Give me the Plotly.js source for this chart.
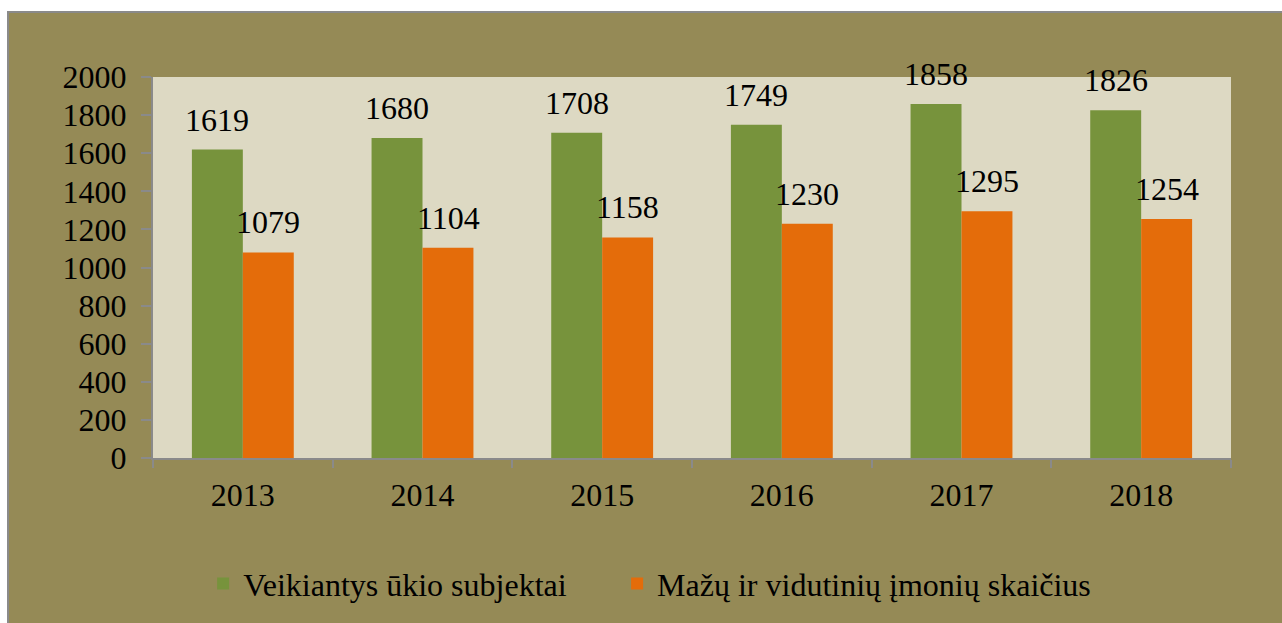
<!DOCTYPE html>
<html>
<head>
<meta charset="utf-8">
<script src="https://cdn.plot.ly/plotly-3.0.1.min.js"></script>
<style>
  html, body { margin: 0; padding: 0; background: #ffffff; width: 1282px; height: 623px; overflow: hidden; }
  #chart { position: absolute; left: 7px; top: 11px; width: 1275px; height: 612px;
           border-left: 2px solid #8a8a8a; border-top: 2px solid #8a8a8a; box-sizing: border-box; }
</style>
</head>
<body>
<div id="chart"></div>
<script>
const years = ['2013', '2014', '2015', '2016', '2017', '2018'];
const seriesNames = ['Veikiantys ūkio subjektai', 'Mažų ir vidutinių įmonių skaičius'];
const veikiantys = [1619, 1680, 1708, 1749, 1858, 1826];
const mvi = [1079, 1104, 1158, 1230, 1295, 1254];
const yTicks = [0, 200, 400, 600, 800, 1000, 1200, 1400, 1600, 1800, 2000];

const green = '#77933C';
const orange = '#E46C0A';
const fontFam = '"Liberation Serif", "Times New Roman", serif';

const traces = [
  { type: 'bar', name: seriesNames[0], x: years, y: veikiantys, marker: { color: green }, hoverinfo: 'none', legend: 'legend' },
  { type: 'bar', name: seriesNames[1], x: years, y: mvi, marker: { color: orange }, hoverinfo: 'none', legend: 'legend2' }
];

const annotations = [];
[veikiantys, mvi].forEach((arr, si) => {
  arr.forEach((v, i) => {
    annotations.push({
      x: i, y: v, xref: 'x', yref: 'y', text: String(v), showarrow: false,
      yanchor: 'bottom', xanchor: 'center', xshift: si === 0 ? -25.5 : 25.5, yshift: 10,
      font: { family: fontFam, size: 32, color: '#000' }
    });
  });
});

const legendBase = { orientation: 'h', xanchor: 'left', y: -0.33, yanchor: 'middle',
                     font: { family: fontFam, size: 32, color: '#000' }, bgcolor: 'rgba(0,0,0,0)' };

const layout = {
  width: 1273, height: 610,
  margin: { l: 144, r: 51, t: 64, b: 162 },
  paper_bgcolor: '#958A56',
  plot_bgcolor: '#DDD9C3',
  font: { family: fontFam, size: 32, color: '#000' },
  barmode: 'group',
  bargap: 0.433,
  bargroupgap: 0,
  showlegend: true,
  legend: Object.assign({}, legendBase, { x: 0.0465 }),
  legend2: Object.assign({}, legendBase, { x: 0.4305 }),
  xaxis: {
    type: 'category', range: [-0.5, years.length - 0.5], autorange: false,
    showgrid: false, zeroline: false, tickangle: 0,
    showline: true, linecolor: '#8a8a8a', linewidth: 2,
    ticks: 'outside', tickson: 'boundaries', ticklen: 8, tickcolor: '#8a8a8a', tickwidth: 2,
    ticklabelstandoff: 8,
    tickfont: { family: fontFam, size: 32, color: '#000' }
  },
  yaxis: {
    range: [0, 2000], autorange: false, tickvals: yTicks, ticktext: yTicks.map(String),
    showgrid: false, zeroline: false,
    showline: true, linecolor: '#8a8a8a', linewidth: 2,
    ticks: 'outside', ticklen: 10, tickcolor: '#8a8a8a', tickwidth: 2,
    ticklabelstandoff: 8,
    tickfont: { family: fontFam, size: 32, color: '#000' }
  },
  annotations: annotations
};

Plotly.newPlot('chart', traces, layout, { displayModeBar: false, staticPlot: true });
</script>
</body>
</html>
